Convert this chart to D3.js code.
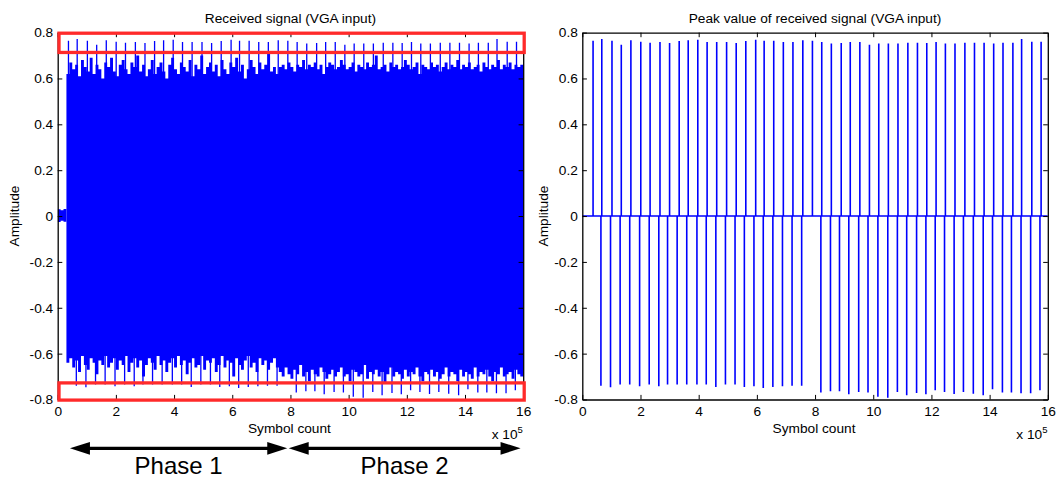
<!DOCTYPE html>
<html>
<head>
<meta charset="utf-8">
<script src="https://cdn.jsdelivr.net/npm/d3@7"></script>
<style>
  body { margin: 0; background: #fff; }
  svg { display: block; }
  text { font-family: "Liberation Sans", Arial, Helvetica, sans-serif; fill: #000; }
</style>
</head>
<body>
<svg id="fig" width="1063" height="479"></svg>
<script>
// ---- Axis ticks -------------------------------------------------------
const xTicks = [0, 2, 4, 6, 8, 10, 12, 14, 16];          // symbol count, x 10^5
const yTicks = [-0.8, -0.6, -0.4, -0.2, 0, 0.2, 0.4, 0.6, 0.8];

// ---- Peak values of the received signal (x in units of 10^5 symbols) --
const posPeakX = [0.37, 0.67, 1.02, 1.34, 1.67, 2.01, 2.33, 2.67, 3.00, 3.33,
                  3.64, 3.97, 4.29, 4.62, 4.96, 5.29, 5.62, 5.96, 6.25, 6.58,
                  6.91, 7.24, 7.58, 7.91, 8.23, 8.56, 8.90, 9.21, 9.54, 9.87,
                  10.19, 10.52, 10.85, 11.19, 11.52, 11.84, 12.16, 12.48, 12.81, 13.15,
                  13.48, 13.81, 14.14, 14.46, 14.80, 15.10, 15.45, 15.77];
const posPeakY = [0.764, 0.772, 0.764, 0.747, 0.767, 0.760, 0.756, 0.759, 0.755, 0.763,
                  0.767, 0.769, 0.759, 0.759, 0.759, 0.755, 0.763, 0.769, 0.764, 0.764,
                  0.759, 0.759, 0.767, 0.764, 0.759, 0.752, 0.755, 0.759, 0.759, 0.747,
                  0.752, 0.752, 0.752, 0.756, 0.756, 0.755, 0.759, 0.752, 0.752, 0.756,
                  0.756, 0.756, 0.752, 0.756, 0.756, 0.772, 0.760, 0.760];
const negPeakX = [0.64, 0.97, 1.30, 1.63, 1.97, 2.30, 2.63, 2.93, 3.26, 3.59,
                  3.94, 4.26, 4.59, 4.92, 5.25, 5.57, 5.90, 6.22, 6.55, 6.88,
                  7.21, 7.54,
                  8.20, 8.53, 8.84, 9.16, 9.50, 9.82, 10.16, 10.50, 10.83, 11.15,
                  11.49, 11.81, 12.13, 12.45, 12.78, 13.10, 13.44, 13.78, 14.10, 14.44,
                  14.75, 15.08, 15.41, 15.73];
const negPeakY = [-0.740, -0.747, -0.735, -0.735, -0.742, -0.735, -0.742, -0.735, -0.735, -0.735,
                  -0.735, -0.735, -0.745, -0.735, -0.735, -0.745, -0.742, -0.750, -0.745, -0.742,
                  -0.740, -0.740,
                  -0.769, -0.764, -0.764, -0.777, -0.767, -0.770, -0.788, -0.792, -0.767, -0.782,
                  -0.772, -0.777, -0.760, -0.767, -0.776, -0.767, -0.775, -0.782, -0.755, -0.770,
                  -0.770, -0.773, -0.773, -0.760];

// ---- Received signal envelope (max / min per 0.1 x 10^5 symbols) -----
const leadStart = 0.0;                       // idle segment before the burst
const leadUpper = [0.030, 0.025, 0.031];
const leadLower = [-0.026, -0.021, -0.025];

const envStart = 0.3;
const envStep = 0.1;
const envUpper = [
  0.62, 0.67, 0.64, 0.66, 0.61, 0.68, 0.65, 0.63, 0.69, 0.62,
  0.66, 0.64, 0.60, 0.67, 0.65, 0.69, 0.63, 0.61, 0.66, 0.68,
  0.64, 0.62, 0.67, 0.65, 0.70, 0.63, 0.66, 0.61, 0.64, 0.68,
  0.62, 0.65, 0.67, 0.63, 0.60, 0.66, 0.69, 0.64, 0.62, 0.67,
  0.65, 0.63, 0.68, 0.61, 0.66, 0.64, 0.70, 0.62, 0.65, 0.67,
  0.63, 0.66, 0.61, 0.68, 0.64, 0.62, 0.67, 0.65, 0.69, 0.63,
  0.66, 0.60, 0.64, 0.68, 0.65, 0.62, 0.67, 0.64, 0.66, 0.71,
  0.63, 0.65, 0.62,
  0.65, 0.66, 0.64, 0.67, 0.65, 0.63, 0.66, 0.65, 0.68, 0.64,
  0.66, 0.65, 0.67, 0.64, 0.66, 0.62, 0.65, 0.67, 0.66, 0.64,
  0.65, 0.68, 0.66, 0.64, 0.65, 0.67, 0.63, 0.66, 0.65, 0.64,
  0.67, 0.65, 0.66, 0.70, 0.64, 0.65, 0.66, 0.63, 0.67, 0.65,
  0.66, 0.64, 0.65, 0.68, 0.66, 0.64, 0.65, 0.67, 0.62, 0.66,
  0.65, 0.64, 0.67, 0.65, 0.66, 0.63, 0.65, 0.67, 0.64, 0.66,
  0.65, 0.68, 0.64, 0.66, 0.65, 0.67, 0.64, 0.65, 0.66, 0.63,
  0.67, 0.65, 0.64, 0.66, 0.65, 0.68, 0.64, 0.66, 0.65, 0.67,
  0.64, 0.66, 0.65, 0.66];
const envLower = [
  -0.64, -0.62, -0.66, -0.63, -0.68, -0.61, -0.65, -0.67, -0.62, -0.64,
  -0.69, -0.63, -0.65, -0.61, -0.66, -0.64, -0.62, -0.67, -0.63, -0.65,
  -0.61, -0.68, -0.64, -0.62, -0.66, -0.63, -0.70, -0.65, -0.62, -0.64,
  -0.67, -0.61, -0.65, -0.63, -0.68, -0.64, -0.62, -0.66, -0.61, -0.65,
  -0.63, -0.69, -0.64, -0.62, -0.66, -0.65, -0.61, -0.67, -0.63, -0.64,
  -0.62, -0.68, -0.65, -0.61, -0.66, -0.63, -0.64, -0.70, -0.62, -0.65,
  -0.67, -0.63, -0.61, -0.66, -0.64, -0.68, -0.62, -0.65, -0.63, -0.67,
  -0.64, -0.62, -0.66,
  -0.68, -0.70, -0.66, -0.69, -0.71, -0.67, -0.69, -0.65, -0.70, -0.68,
  -0.72, -0.67, -0.69, -0.70, -0.66, -0.68, -0.71, -0.69, -0.67, -0.70,
  -0.68, -0.66, -0.70, -0.69, -0.72, -0.67, -0.68, -0.70, -0.69, -0.65,
  -0.71, -0.68, -0.69, -0.67, -0.70, -0.68, -0.73, -0.69, -0.66, -0.70,
  -0.68, -0.69, -0.71, -0.67, -0.70, -0.68, -0.69, -0.66, -0.70, -0.72,
  -0.68, -0.69, -0.67, -0.70, -0.68, -0.71, -0.69, -0.66, -0.70, -0.68,
  -0.69, -0.72, -0.67, -0.70, -0.68, -0.69, -0.71, -0.66, -0.70, -0.68,
  -0.69, -0.67, -0.70, -0.72, -0.68, -0.69, -0.66, -0.70, -0.69, -0.68,
  -0.71, -0.67, -0.69, -0.70];

// ---- Annotations ------------------------------------------------------
const highlightBands = [[0.716, 0.8], [-0.8, -0.725]];
const phases = [
  { label: "Phase 1", from: 0.42, to: 7.89 },
  { label: "Phase 2", from: 7.94, to: 15.91 }
];

// ---- Layout -----------------------------------------------------------
const W = 1063, H = 479;
const FONT = 13.7;
const BLUE = "#0000ff";
const RED = "#ff2a2a";
const TICK = 4.6;
const panels = [
  { left: 57.7, right: 523.2, top: 32.6, bottom: 399.5,
    title: "Received signal (VGA input)", ylabelX: 19 },
  { left: 582.3, right: 1047.8, top: 32.6, bottom: 399.5,
    title: "Peak value of received signal (VGA input)", ylabelX: 548 }
];

const svg = d3.select("#fig");
svg.append("rect").attr("width", W).attr("height", H).attr("fill", "#fff");

const fmtY = d => d === 0 ? "0" : d.toFixed(1);

function makeScales(p) {
  return {
    x: d3.scaleLinear().domain([0, 16]).range([p.left, p.right]),
    y: d3.scaleLinear().domain([-0.8, 0.8]).range([p.bottom, p.top])
  };
}

function drawFrame(p, s, idx) {
  const g = svg.append("g").attr("class", "axes");
  const bottom = g.append("g").attr("transform", `translate(0,${p.bottom})`)
    .call(d3.axisBottom(s.x).tickValues(xTicks).tickSize(-TICK).tickSizeOuter(0).tickPadding(7).tickFormat(d3.format("d")));
  const top = g.append("g").attr("transform", `translate(0,${p.top})`)
    .call(d3.axisTop(s.x).tickValues(xTicks).tickSize(-TICK).tickSizeOuter(0).tickFormat(""));
  const left = g.append("g").attr("transform", `translate(${p.left},0)`)
    .call(d3.axisLeft(s.y).tickValues(yTicks).tickSize(-TICK).tickSizeOuter(0).tickPadding(4.5).tickFormat(fmtY));
  const right = g.append("g").attr("transform", `translate(${p.right},0)`)
    .call(d3.axisRight(s.y).tickValues(yTicks).tickSize(-TICK).tickSizeOuter(0).tickFormat(""));
  [bottom, top, left, right].forEach(a => {
    a.selectAll("path.domain").attr("stroke", "#000").attr("stroke-width", 1.3);
    a.selectAll(".tick line").attr("stroke", "#000").attr("stroke-width", 1);
    a.selectAll("text").attr("font-size", FONT).attr("fill", "#000")
      .attr("font-family", '"Liberation Sans", Arial, sans-serif');
  });

  const cx = (p.left + p.right) / 2;
  g.append("text").attr("x", cx).attr("y", 22.5).attr("text-anchor", "middle")
    .attr("font-size", FONT).text(p.title);
  g.append("text").attr("x", cx - 1).attr("y", 433).attr("text-anchor", "middle")
    .attr("font-size", FONT).text("Symbol count");
  g.append("text")
    .attr("transform", `translate(${p.ylabelX},${s.y(0)}) rotate(-90)`)
    .attr("text-anchor", "middle").attr("font-size", FONT).text("Amplitude");
  const mult = g.append("text").attr("x", p.right - 31.5).attr("y", 439.3).attr("font-size", FONT);
  mult.append("tspan").text("x 10");
  mult.append("tspan").attr("dy", -6.6).attr("font-size", 9.5).text("5");
}

function clipFor(p, id) {
  svg.append("clipPath").attr("id", id).append("rect")
    .attr("x", p.left).attr("y", p.top)
    .attr("width", p.right - p.left).attr("height", p.bottom - p.top);
  return `url(#${id})`;
}

// ---- Left panel: received signal -------------------------------------
{
  const p = panels[0], s = makeScales(p);
  const plot = svg.append("g").attr("clip-path", clipFor(p, "clipL"));

  const stepArea = d3.area().curve(d3.curveStepAfter)
    .x(d => s.x(d.x)).y0(d => s.y(d.lo)).y1(d => s.y(d.hi));

  const lead = leadUpper.map((hi, i) => ({ x: leadStart + i * envStep, hi, lo: leadLower[i] }));
  lead.push({ x: envStart, hi: leadUpper[leadUpper.length - 1], lo: leadLower[leadLower.length - 1] });
  plot.append("path").datum(lead).attr("d", stepArea).attr("fill", BLUE);

  const env = envUpper.map((hi, i) => ({ x: envStart + i * envStep, hi, lo: envLower[i] }));
  env.push({ x: 16, hi: envUpper[envUpper.length - 1], lo: envLower[envLower.length - 1] });
  plot.append("path").datum(env).attr("d", stepArea).attr("fill", BLUE);

  const peaks = posPeakX.map((x, i) => ({ x, v: posPeakY[i] }))
    .concat(negPeakX.map((x, i) => ({ x, v: negPeakY[i] })));
  plot.selectAll("line.peak").data(peaks).join("line").attr("class", "peak")
    .attr("x1", d => s.x(d.x)).attr("x2", d => s.x(d.x))
    .attr("y1", s.y(0)).attr("y2", d => s.y(d.v))
    .attr("stroke", BLUE).attr("stroke-width", 1.3);

  drawFrame(p, s, 0);

  // highlighted amplitude bands
  svg.append("g").selectAll("rect").data(highlightBands).join("rect")
    .attr("x", s.x(0) + 1.3).attr("width", s.x(16) - s.x(0) - 0.3)
    .attr("y", d => s.y(d[1]) + 0.6).attr("height", d => s.y(d[0]) - s.y(d[1]))
    .attr("fill", "none").attr("stroke", RED).attr("stroke-width", 3.3);

  // phase arrows
  const ay = 448.3, head = 20, half = 6.4;
  const ag = svg.append("g");
  phases.forEach(ph => {
    const x0 = s.x(ph.from), x1 = s.x(ph.to);
    ag.append("line").attr("x1", x0 + head - 2).attr("x2", x1 - head + 2)
      .attr("y1", ay).attr("y2", ay).attr("stroke", "#000").attr("stroke-width", 3.2);
    ag.append("path").attr("d", `M${x0},${ay}L${x0 + head},${ay - half}L${x0 + head},${ay + half}Z`).attr("fill", "#000");
    ag.append("path").attr("d", `M${x1},${ay}L${x1 - head},${ay - half}L${x1 - head},${ay + half}Z`).attr("fill", "#000");
    ag.append("text").attr("x", (x0 + x1) / 2).attr("y", 473.5).attr("text-anchor", "middle")
      .attr("font-size", 24).text(ph.label);
  });
}

// ---- Right panel: detected peak values -------------------------------
{
  const p = panels[1], s = makeScales(p);
  const plot = svg.append("g").attr("clip-path", clipFor(p, "clipR"));

  const peaks = posPeakX.map((x, i) => ({ x, v: posPeakY[i] }))
    .concat(negPeakX.map((x, i) => ({ x, v: negPeakY[i] })))
    .sort((a, b) => a.x - b.x);
  const pts = [[0, 0]];
  peaks.forEach(d => { pts.push([d.x, 0], [d.x, d.v], [d.x, 0]); });
  pts.push([16, 0]);

  plot.append("path").datum(pts)
    .attr("d", d3.line().x(d => s.x(d[0])).y(d => s.y(d[1])))
    .attr("fill", "none").attr("stroke", BLUE).attr("stroke-width", 1.6)
    .attr("stroke-linejoin", "miter").attr("stroke-miterlimit", 1);

  drawFrame(p, s, 1);
}
</script>
</body>
</html>
